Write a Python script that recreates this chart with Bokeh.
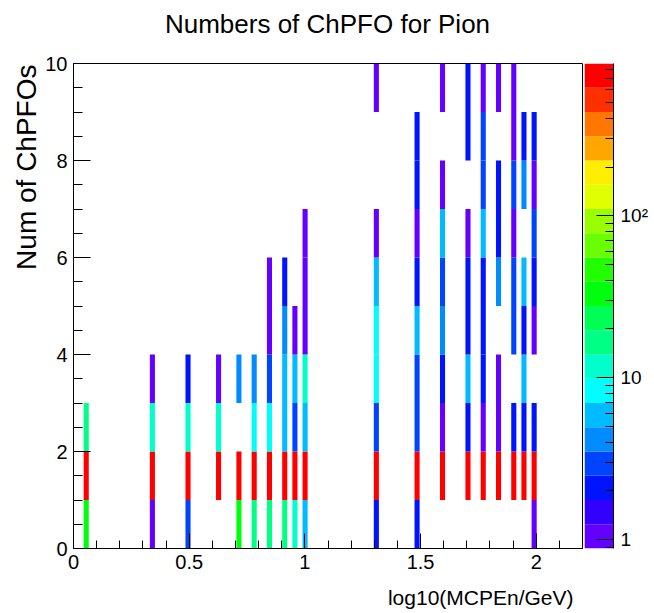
import math
from bokeh.plotting import figure
from bokeh.layouts import row, column
from bokeh.models import (ColumnDataSource, LogColorMapper, Title, SingleIntervalTicker,
                          NumeralTickFormatter, LogTicker, Range1d)
from bokeh.core.properties import value
from bokeh.transform import log_cmap
from bokeh.embed import file_html
from bokeh.resources import INLINE

# ---------------- data ----------------
# x bin centres, log10(MCPEn/GeV), bin width 0.022 (100 bins over 0..2.2)
x_centers = [0.055, 0.341, 0.495, 0.627, 0.715, 0.781, 0.847, 0.913, 0.957, 1.001,
             1.309, 1.485, 1.595, 1.705, 1.771, 1.837, 1.903, 1.947, 1.991]
x_bin_width = 0.022
# y bins: number of ChPFOs, 0..10 in unit bins
y_edges = [0, 1, 2, 3, 4, 5, 6, 7, 8, 9, 10]
# counts[i][j]: column i, y bin j
counts = [
    [33, 820, 16, 0, 0, 0, 0, 0, 0, 0],
    [1, 840, 12, 1, 0, 0, 0, 0, 0, 0],
    [3, 830, 12, 2, 0, 0, 0, 0, 0, 0],
    [0, 850, 12, 1, 0, 0, 0, 0, 0, 0],
    [33, 800, 0, 4, 0, 0, 0, 0, 0, 0],
    [16, 790, 8, 4, 0, 0, 0, 0, 0, 0],
    [16, 770, 8, 3, 1, 1, 0, 0, 0, 0],
    [16, 760, 6, 6, 4, 2, 0, 0, 0, 0],
    [12, 780, 3, 6, 1, 0, 0, 0, 0, 0],
    [6, 750, 6, 12, 1, 1, 1, 0, 0, 0],
    [2, 720, 3, 8, 8, 6, 1, 0, 0, 1],
    [2, 700, 3, 3, 6, 2, 1, 2, 2, 0],
    [0, 690, 1, 2, 4, 3, 6, 1, 0, 1],
    [0, 680, 2, 6, 2, 2, 1, 0, 2, 2],
    [0, 700, 1, 2, 2, 2, 6, 3, 3, 1],
    [0, 710, 1, 1, 0, 4, 2, 2, 0, 1],
    [0, 690, 2, 0, 3, 3, 1, 3, 1, 1],
    [0, 680, 2, 6, 2, 6, 0, 4, 2, 0],
    [1, 700, 2, 0, 1, 2, 3, 1, 2, 0],
]
z_low, z_high = 0.883, 871.0
z_tick_labels = {1: "1", 10: "10", 100: "10\u00b2"}
title_text = "Numbers of ChPFO for Pion"
x_title = "log10(MCPEn/GeV)"
y_title = "Num of ChPFOs"

# ROOT "pretty" palette sampled at 20 contours (violet -> red)
palette = ["#6300FF", "#3300FF", "#0014FF", "#0044FF", "#008BFF", "#00BBFF", "#00FFFC",
           "#00FFCC", "#00FF85", "#00FF55", "#00FF0E", "#22FF00", "#69FF00", "#99FF00",
           "#E0FF00", "#FFEE00", "#FFA700", "#FF7700", "#FF3000", "#FF0000"]

FONT = "Liberation Sans"
W = 654
TOP_H = 40      # title strip
BOT_H = 31      # x-title strip
MID_H = 613 - TOP_H - BOT_H

# ---------------- table ----------------
left, right, bottom, top, cnt = [], [], [], [], []
for i, xc in enumerate(x_centers):
    for j, cc in enumerate(counts[i]):
        if cc > 0:
            left.append(xc - x_bin_width / 2)
            right.append(xc + x_bin_width / 2)
            bottom.append(y_edges[j])
            top.append(y_edges[j + 1])
            cnt.append(cc)
src = ColumnDataSource(dict(left=left, right=right, bottom=bottom, top=top, count=cnt))


def strip(height):
    f = figure(width=W, height=height, output_backend="svg", toolbar_location=None,
               x_range=Range1d(0, W), y_range=Range1d(height, 0),
               x_axis_location=None, y_axis_location=None,
               min_border_left=0, min_border_right=0, min_border_top=0, min_border_bottom=0)
    f.outline_line_color = None
    f.background_fill_color = "white"
    f.border_fill_color = "white"
    f.xgrid.visible = False
    f.ygrid.visible = False
    return f


# ---------------- title strip ----------------
t = strip(TOP_H)
t.text(x=[327], y=[23], text=[title_text], text_align="center", text_baseline="middle",
       text_font=value(FONT), text_font_size="26px", text_color="black")

# ---------------- main figure ----------------
p = figure(width=584, height=MID_H, output_backend="svg", toolbar_location=None,
           x_range=Range1d(0, 2.2), y_range=Range1d(0, 10),
           min_border_left=73, min_border_right=2, min_border_top=63 - TOP_H,
           min_border_bottom=MID_H - (63 - TOP_H) - 485)
p.background_fill_color = "white"
p.border_fill_color = "white"
p.outline_line_color = "black"
p.outline_line_width = 1
p.xgrid.visible = False
p.ygrid.visible = False

p.quad(left="left", right="right", bottom="bottom", top="top", source=src,
       fill_color=log_cmap("count", palette, low=z_low, high=z_high), line_color=None)

xa = p.xaxis[0]
xa.ticker = SingleIntervalTicker(interval=0.5, num_minor_ticks=5)
xa.formatter = NumeralTickFormatter(format="0.[0]")
xa.major_tick_in = 15
xa.major_tick_out = 0
xa.minor_tick_in = 8
xa.minor_tick_out = 0
xa.major_label_standoff = 6
xa.major_label_text_font = FONT
xa.major_label_text_font_size = "20px"
xa.major_label_text_color = "black"
xa.axis_line_color = "black"

ya = p.yaxis[0]
ya.ticker = SingleIntervalTicker(interval=2, num_minor_ticks=4)
ya.major_tick_in = 17
ya.major_tick_out = 0
ya.minor_tick_in = 9
ya.minor_tick_out = 0
ya.major_label_standoff = 6
ya.major_label_text_font = FONT
ya.major_label_text_font_size = "20px"
ya.major_label_text_color = "black"
ya.axis_line_color = "black"

p.add_layout(Title(text=y_title, align="right", offset=1, standoff=2,
                   text_font=FONT, text_font_size="28px", text_font_style="normal",
                   text_color="black"), "left")

# ---------------- colour bar figure ----------------
mapper = LogColorMapper(palette=palette, low=z_low, high=z_high)
nb = len(palette)
lo_l, hi_l = math.log10(mapper.low), math.log10(mapper.high)
cb_bottom = [10 ** (lo_l + (hi_l - lo_l) * k / nb) for k in range(nb)]
cb_top = [10 ** (lo_l + (hi_l - lo_l) * (k + 1) / nb) for k in range(nb)]

c = figure(width=70, height=MID_H, output_backend="svg", toolbar_location=None,
           x_range=Range1d(0, 1), y_range=Range1d(z_low, z_high), y_axis_type="log",
           y_axis_location="right", x_axis_location=None,
           min_border_left=0, min_border_right=41, min_border_top=63 - TOP_H,
           min_border_bottom=MID_H - (63 - TOP_H) - 485)
c.background_fill_color = "white"
c.border_fill_color = "white"
c.outline_line_color = None
c.xgrid.visible = False
c.ygrid.visible = False
c.quad(left=0, right=1, bottom=cb_bottom, top=cb_top, fill_color=palette, line_color=None)
ca = c.yaxis[0]
ca.ticker = LogTicker(num_minor_ticks=10)
ca.major_label_overrides = z_tick_labels
ca.major_tick_in = 17
ca.major_tick_out = 0
ca.minor_tick_in = 8
ca.minor_tick_out = 0
ca.major_label_standoff = 7
ca.major_label_text_font = FONT
ca.major_label_text_font_size = "19px"
ca.major_label_text_color = "black"
ca.axis_line_color = "black"

# ---------------- x-title strip ----------------
b = strip(BOT_H)
b.text(x=[573], y=[14.5], text=[x_title], text_align="right",
       text_baseline="middle", text_font=value(FONT), text_font_size="21px",
       text_color="black")

layout = column(t, row(p, c), b)
open("out.html", "w").write(file_html(layout, INLINE))
